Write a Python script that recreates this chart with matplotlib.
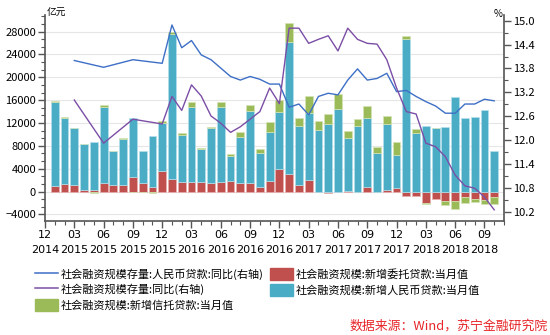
import numpy as np
import matplotlib
matplotlib.use("Agg")
import matplotlib.pyplot as plt
from matplotlib.ticker import MultipleLocator, AutoMinorLocator
from matplotlib.patches import Patch
from matplotlib.lines import Line2D

plt.rcParams['font.family'] = ['Noto Sans CJK SC', 'DejaVu Sans']

# months Jan 2015 .. Oct 2018 (Dec 2014 is position 0)
n = 46
# 新增委托贷款 (亿元)
entrusted = [900, 1350, 1170, 300, 300, 1460, 1170, 1170, 2520, 1460, 875, 3620,
             2160, 1630, 1630, 1630, 1460, 1630, 1810, 1460, 1460, 760, 1920, 3910,
             3150, 1170, 1980, 0, -250, 0, 150, 0, 760, 0, 350, 700,
             -760, -700, -1930, -1340, -1630, -1630, -990, -1280, -1460, -990]
# 新增人民币贷款 (亿元)
rmb_loans = [14700, 11490, 10030, 7990, 8450, 13310, 5950, 8000, 10430, 5660, 8875, 8430,
             25430, 8290, 13240, 5780, 9620, 13130, 4490, 8160, 12660, 6070, 8580, 10090,
             23100, 10380, 11730, 10790, 11840, 14470, 9300, 11550, 12070, 6830, 11490, 5720,
             26720, 10210, 11490, 11080, 11370, 16620, 12830, 13120, 14290, 7120]
# 新增信托贷款 (亿元)
trust = [175, 160, 0, 0, -175, 460, 0, 280, -100, -150, -250, 230,
         410, 290, 760, 290, 180, 870, 290, 760, 1050, 580, 1750, 2040,
         3210, 1280, 3030, 1580, 1750, 2560, 1220, 1110, 2220, 1050, 1400, 2330,
         520, 700, -290, 0, -700, -1460, -1050, -470, -700, -1170]

nan = np.nan
# 社会融资规模存量:人民币贷款:同比 (%)
rmb_yoy = [nan, nan, 14.00, nan, nan, 13.83, nan, nan, 14.02, nan, nan, 13.93,
           14.89, 14.32, 14.50, 14.14, 14.02, 13.81, 13.60, 13.51, 13.60, 13.53, 13.41, 13.41,
           12.83, 12.91, 12.64, 13.10, 13.18, 13.14, 13.51, 13.79, 13.51, 13.55, 13.68, 13.22,
           13.25, 13.10, 12.97, 12.86, 12.68, 12.68, 12.91, 12.91, 13.03, 12.99]
# 社会融资规模存量:同比 (%)
afre_yoy = [nan, nan, 13.01, nan, nan, 11.93, nan, nan, 12.53, nan, nan, 12.41,
            13.10, 12.75, 13.39, 13.11, 12.61, 12.43, 12.20, 12.34, 12.53, 12.72, 13.31, 12.92,
            14.81, 14.81, 14.43, 14.53, 14.62, 14.24, 14.81, 14.53, 14.43, 14.41, 14.02, 13.31,
            12.72, 12.66, 11.93, 11.84, 11.59, 11.13, 10.86, 10.80, 10.58, 10.26]

tick_months = ['12', '03', '06', '09']
tick_years = ['2014'] + [str(y) for y in (2015, 2016, 2017, 2018) for _ in range(4)][:15]

x = np.arange(1, n + 1)
red = np.array(entrusted, float)
blue = np.array(rmb_loans, float)
green = np.array(trust, float)
blue_bottom = np.maximum(red, 0)
green_bottom = np.where(green >= 0, blue_bottom + blue, np.minimum(red, 0))

c_red, c_blue, c_green = '#c0504d', '#4bacc6', '#9bbb59'
c_line1, c_line2 = '#3d6fc6', '#7b4ea6'

fig = plt.figure(figsize=(5.5, 3.35), dpi=100)
ax = fig.add_axes([45 / 550, 1 - 221 / 335, 459 / 550, 206 / 335])
ax2 = ax.twinx()
ax.set_zorder(ax2.get_zorder() - 1)
ax.patch.set_visible(True)
ax2.patch.set_visible(False)

w = 0.8
ax.bar(x, red, w, color=c_red, edgecolor='#e8b0ae', linewidth=0.5, zorder=3)
ax.bar(x, blue, w, bottom=blue_bottom, color=c_blue, edgecolor='#b5e0ec', linewidth=0.5, zorder=3)
ax.bar(x, green, w, bottom=green_bottom, color=c_green, edgecolor='#d4e4b5', linewidth=0.5, zorder=3)

r1 = np.array(rmb_yoy)
r2 = np.array(afre_yoy)
m1 = ~np.isnan(r1)
m2 = ~np.isnan(r2)
ax2.plot(x[m1], r1[m1], color=c_line1, lw=1.0)
ax2.plot(x[m2], r2[m2], color=c_line2, lw=1.0)

ax.set_xlim(0, 47)
ax.set_ylim(-5150, 30900)
ax.set_yticks(np.arange(-4000, 28001, 4000))
ax.yaxis.set_minor_locator(AutoMinorLocator(3))
ax.grid(axis='y', color='#e6e6e6', lw=0.8, zorder=0)

ax2.set_ylim(9.98, 15.14)
ax2.set_yticks(np.arange(10.2, 15.01, 0.6))
ax2.set_yticklabels(['%.1f' % v for v in np.arange(10.2, 15.01, 0.6)])
ax2.yaxis.set_minor_locator(MultipleLocator(0.3))

ticks = np.arange(0, 46, 3)
labels = [f"{tick_months[i % 4]}\n{tick_years[i]}" for i in range(len(ticks))]
ax.set_xticks(ticks)
ax.set_xticklabels(labels, fontsize=8, fontfamily=['DejaVu Sans'], linespacing=1.6)
ax.xaxis.set_minor_locator(MultipleLocator(1))

for a in (ax, ax2):
    a.spines['top'].set_visible(False)
    for s in ('left', 'right', 'bottom'):
        a.spines[s].set_color('#555555')
        a.spines[s].set_linewidth(1.2)
    a.tick_params(which='major', length=5, width=1, color='#555555', labelsize=8, pad=1.5)
    a.tick_params(which='minor', length=3, width=0.8, color='#555555')
ax.spines['right'].set_visible(False)
ax2.spines['left'].set_visible(False)
ax2.spines['bottom'].set_visible(False)

fig.text(47 / 550, 1 - 13 / 335, '亿元', fontsize=7, ha='left', va='center')
fig.text(498 / 550, 1 - 14 / 335, '%', fontsize=7, ha='center', va='center')

handles = [Line2D([], [], color=c_line1, lw=1.1),
           Line2D([], [], color=c_line2, lw=1.1),
           Patch(color=c_green),
           Patch(color=c_red),
           Patch(color=c_blue)]
names = ['社会融资规模存量:人民币贷款:同比(右轴)',
         '社会融资规模存量:同比(右轴)',
         '社会融资规模:新增信托贷款:当月值',
         '社会融资规模:新增委托贷款:当月值',
         '社会融资规模:新增人民币贷款:当月值']
fig.legend(handles, names, ncol=2, loc='upper left', bbox_to_anchor=(26 / 550, 1 - 259 / 335),
           frameon=False, fontsize=8, handlelength=2.1, handleheight=1.3,
           handletextpad=0.25, columnspacing=0.55, labelspacing=0.32, borderpad=0.3)

fig.text(548 / 550, 1 - 326 / 335, '数据来源：Wind，苏宁金融研究院', color='#e8262a',
         fontsize=9.3, style='italic', ha='right', va='center')

fig.savefig('out.png', dpi=100)
